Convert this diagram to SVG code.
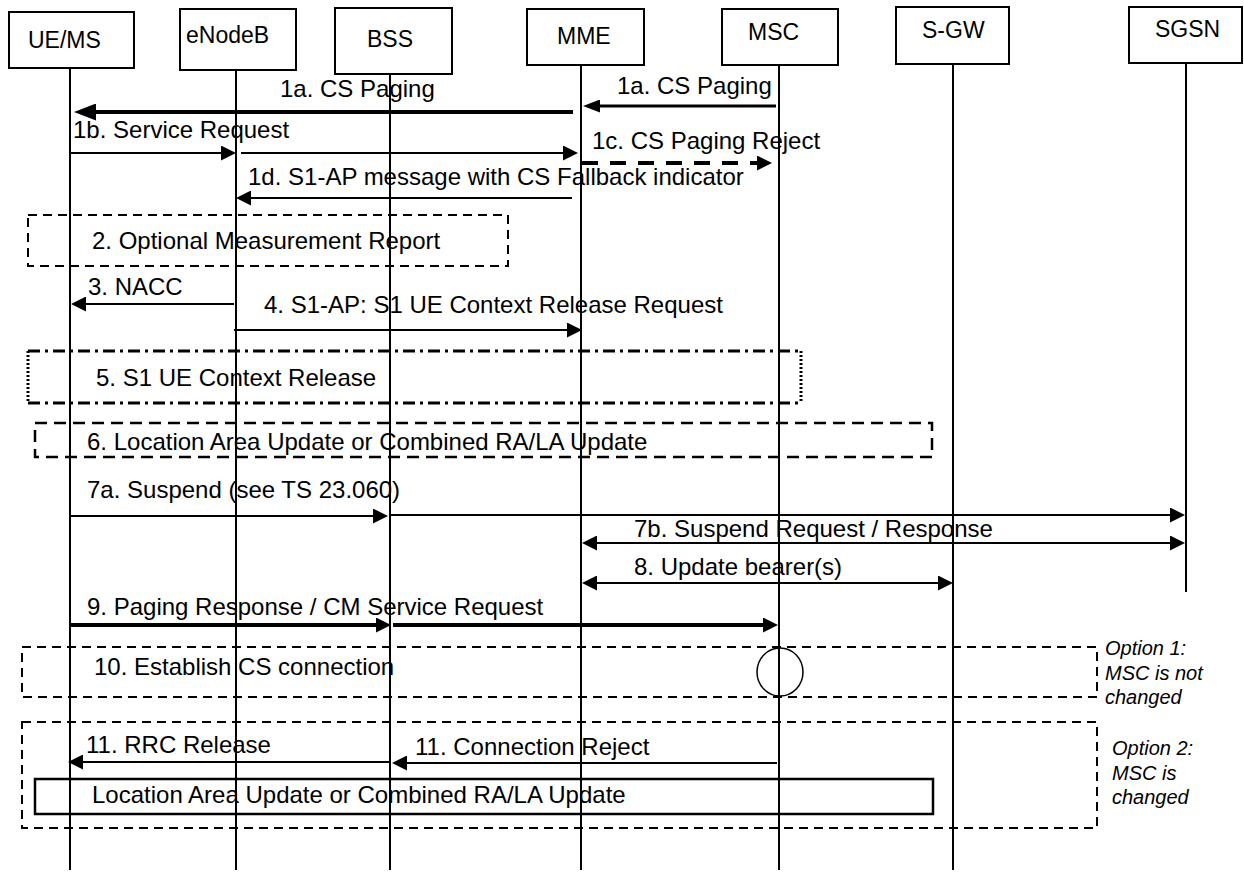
<svg xmlns="http://www.w3.org/2000/svg" width="1244" height="873" viewBox="0 0 1244 873">
<style>
  text { font-family: "Liberation Sans", Arial, sans-serif; fill: #000; }
  .hdr { font-size: 23px; }
  .lbl { font-size: 24px; }
  .opt { font-size: 20px; font-style: italic; }
  .box { fill: #fff; stroke: #000; stroke-width: 2; }
  .life { stroke: #000; stroke-width: 2; fill: none; }
  .msg { stroke: #000; stroke-width: 2; fill: none; }
  .msg3 { stroke: #000; stroke-width: 3; fill: none; }
  .msg4 { stroke: #000; stroke-width: 4; fill: none; }
  .dash { fill: none; stroke: #000; stroke-width: 2; stroke-dasharray: 9 6; }
  .dash6 { fill: none; stroke: #000; stroke-width: 2.5; stroke-dasharray: 12 7; }
</style>
<defs>
  <marker id="ah" markerUnits="userSpaceOnUse" markerWidth="15" markerHeight="15" refX="0" refY="7.5" orient="auto-start-reverse" viewBox="0 0 15 15">
    <path d="M0,0 L15,7.5 L0,15 z" fill="#000"/>
  </marker>
  <marker id="ahM" markerUnits="userSpaceOnUse" markerWidth="17" markerHeight="13" refX="0" refY="6.5" orient="auto-start-reverse" viewBox="0 0 17 13">
    <path d="M0,0 L17,6.5 L0,13 z" fill="#000"/>
  </marker>
  <marker id="ahL" markerUnits="userSpaceOnUse" markerWidth="22" markerHeight="17" refX="0" refY="8.5" orient="auto-start-reverse" viewBox="0 0 22 17">
    <path d="M0,0 L22,8.5 L0,17 z" fill="#000"/>
  </marker>
</defs>
<rect width="1244" height="873" fill="#fff"/>

<g id="lifelines">
  <line class="life" x1="70" y1="68" x2="70" y2="870"/>
  <line class="life" x1="236" y1="70" x2="236" y2="870"/>
  <line class="life" x1="390" y1="74" x2="390" y2="870"/>
  <line class="life" x1="581" y1="65" x2="581" y2="870"/>
  <line class="life" x1="779" y1="65" x2="779" y2="870"/>
  <line class="life" x1="953" y1="64" x2="953" y2="870"/>
  <line class="life" x1="1186" y1="63" x2="1186" y2="592"/>
</g>

<g id="node-uems"><rect class="box" x="9" y="12" width="125" height="56"/><text class="hdr" x="28" y="48">UE/MS</text></g>
<g id="node-enodeb"><rect class="box" x="180" y="9" width="116" height="61"/><text class="hdr" x="186" y="43">eNodeB</text></g>
<g id="node-bss"><rect class="box" x="335" y="8" width="117" height="66"/><text class="hdr" x="367" y="47">BSS</text></g>
<g id="node-mme"><rect class="box" x="527" y="9" width="117" height="56"/><text class="hdr" x="557" y="44">MME</text></g>
<g id="node-msc"><rect class="box" x="722" y="9" width="116" height="56"/><text class="hdr" x="748" y="40">MSC</text></g>
<g id="node-sgw"><rect class="box" x="896" y="7" width="113" height="57"/><text class="hdr" x="922" y="38">S-GW</text></g>
<g id="node-sgsn"><rect class="box" x="1129" y="7" width="113" height="56"/><text class="hdr" x="1155" y="37">SGSN</text></g>

<g id="frames">
  <rect class="dash" x="28" y="215" width="480" height="51"/>
  <line x1="28" y1="351" x2="801" y2="351" stroke="#000" stroke-width="3" stroke-dasharray="12 5 3 5"/>
  <line x1="28" y1="403" x2="801" y2="403" stroke="#000" stroke-width="3" stroke-dasharray="12 5 3 5"/>
  <line x1="28" y1="351" x2="28" y2="403" stroke="#000" stroke-width="3" stroke-dasharray="2 2"/>
  <line x1="801" y1="351" x2="801" y2="403" stroke="#000" stroke-width="3" stroke-dasharray="2 2"/>
  <rect class="dash6" x="35" y="423" width="897" height="34"/>
  <rect class="dash" x="22" y="647" width="1075" height="50"/>
  <rect class="dash" x="22" y="722" width="1075" height="106"/>
  <ellipse cx="780" cy="672" rx="23" ry="24" fill="none" stroke="#000" stroke-width="1.5"/>
  <rect x="35" y="779" width="898" height="35" fill="none" stroke="#000" stroke-width="2.5"/>
</g>

<g id="connectors">
  <line class="msg3" x1="776" y1="106" x2="600" y2="106" marker-end="url(#ahM)"/>
  <line class="msg4" x1="573" y1="112" x2="96" y2="112" marker-end="url(#ahL)"/>
  <line class="msg" x1="70" y1="153" x2="221" y2="153" marker-end="url(#ah)"/>
  <line class="msg" x1="241" y1="153" x2="563" y2="153" marker-end="url(#ah)"/>
  <line x1="582" y1="163" x2="757" y2="163" stroke="#000" stroke-width="4" stroke-dasharray="16 12" marker-end="url(#ah)"/>
  <line class="msg" x1="572" y1="198" x2="251" y2="198" marker-end="url(#ah)"/>
  <line class="msg" x1="234" y1="304" x2="86" y2="304" marker-end="url(#ah)"/>
  <line class="msg" x1="234" y1="330" x2="567" y2="330" marker-end="url(#ah)"/>
  <line class="msg" x1="70" y1="516" x2="373" y2="516" marker-end="url(#ah)"/>
  <line class="msg" x1="390" y1="515" x2="1170" y2="515" marker-end="url(#ah)"/>
  <line class="msg" x1="597" y1="543" x2="1170" y2="543" marker-start="url(#ah)" marker-end="url(#ah)"/>
  <line class="msg" x1="597" y1="583" x2="938" y2="583" marker-start="url(#ah)" marker-end="url(#ah)"/>
  <line class="msg4" x1="70" y1="625" x2="376" y2="625" marker-end="url(#ah)"/>
  <line class="msg4" x1="393" y1="625" x2="763" y2="625" marker-end="url(#ah)"/>
  <line class="msg" x1="390" y1="762" x2="83" y2="762" marker-end="url(#ah)"/>
  <line class="msg" x1="777" y1="763" x2="407" y2="763" marker-end="url(#ah)"/>
</g>

<g id="labels">
  <text class="lbl" x="617" y="94">1a. CS Paging</text>
  <text class="lbl" x="280" y="97">1a. CS Paging</text>
  <text class="lbl" x="73" y="138">1b. Service Request</text>
  <text class="lbl" x="592" y="149">1c. CS Paging Reject</text>
  <text class="lbl" x="248" y="185">1d. S1-AP message with CS Fallback indicator</text>
  <text class="lbl" x="92" y="249">2. Optional Measurement Report</text>
  <text class="lbl" x="88" y="295">3. NACC</text>
  <text class="lbl" x="264" y="313">4. S1-AP: S1 UE Context Release Request</text>
  <text class="lbl" x="96" y="386">5. S1 UE Context Release</text>
  <text class="lbl" x="87" y="450">6. Location Area Update or Combined RA/LA Update</text>
  <text class="lbl" x="87" y="498">7a. Suspend (see TS 23.060)</text>
  <text class="lbl" x="634" y="537">7b. Suspend Request / Response</text>
  <text class="lbl" x="634" y="575">8. Update bearer(s)</text>
  <text class="lbl" x="87" y="615">9. Paging Response / CM Service Request</text>
  <text class="lbl" x="94" y="675">10. Establish CS connection</text>
  <text class="lbl" x="86" y="753">11. RRC Release</text>
  <text class="lbl" x="415" y="755">11. Connection Reject</text>
  <text class="lbl" x="92" y="803">Location Area Update or Combined RA/LA Update</text>
  <text class="opt" x="1105" y="655">Option 1:</text>
  <text class="opt" x="1105" y="680">MSC is not</text>
  <text class="opt" x="1105" y="704">changed</text>
  <text class="opt" x="1112" y="755">Option 2:</text>
  <text class="opt" x="1112" y="780">MSC is</text>
  <text class="opt" x="1112" y="804">changed</text>
</g>
</svg>
